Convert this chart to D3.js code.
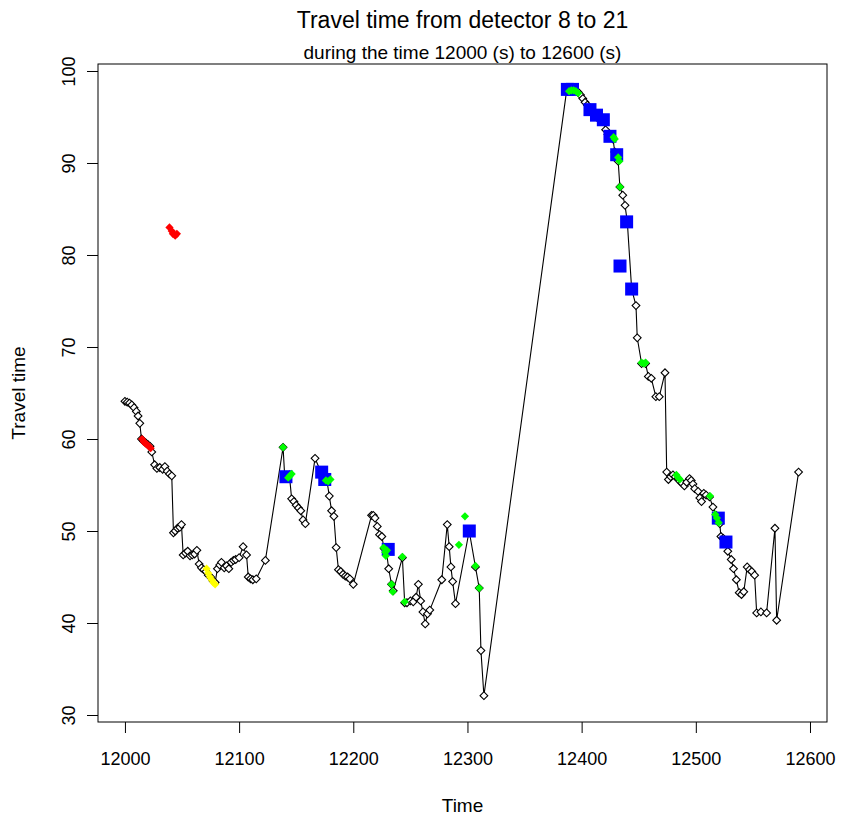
<!DOCTYPE html>
<html>
<head>
<meta charset="utf-8">
<script src="https://cdn.jsdelivr.net/npm/d3@7"></script>
<style>
  body { margin: 0; background: #fff; }
  text { font-family: "Liberation Sans", Arial, sans-serif; fill: #000; }
</style>
</head>
<body>
<div id="chart"></div>
<script>
// travel time series (time in s, travel time)
var travelTime = [
  [12000,64.1],[12002,64.0],[12004,63.9],[12006,63.7],[12008,63.4],[12010,63.0],[12011.5,62.5],[12013,61.7],
  [12014.5,60.0],[12016,59.8],[12018,59.6],[12020,59.4],[12022,59.2],[12023.5,58.6],[12026,57.2],[12028,56.8],
  [12030.5,56.9],[12033,56.7],[12035,57.0],[12037,56.5],[12039,56.2],[12041,56.0],[12042.5,49.8],[12044,50.0],
  [12046,50.3],[12048,50.4],[12049.5,50.7],[12051,47.4],[12053,47.6],[12055,47.8],[12057,47.3],[12059,47.4],
  [12061,47.5],[12063,47.9],[12065,46.4],[12067,46.0],[12069,45.8],[12071,45.6],[12073,45.2],[12075,45.0],
  [12077,44.6],[12079,44.4],[12081,45.9],[12083,46.3],[12084.5,46.6],[12087,46.0],[12089,46.2],[12091,45.9],
  [12093,46.6],[12095,46.8],[12097,46.9],[12100,47.1],[12103.5,48.3],[12106.5,47.4],[12108,45.0],[12110,44.8],
  [12112,44.7],[12115,44.8],[12123,46.8],[12138.5,59.1],[12140,55.8],[12142,55.9],[12144,56.1],[12146,53.5],
  [12148,53.2],[12150,52.8],[12152,52.5],[12154,52.2],[12156,51.2],[12158,50.8],[12166.5,57.9],[12172,56.3],
  [12175,55.6],[12177,55.4],[12179,53.8],[12181,52.2],[12183,51.6],[12185,48.2],[12187,45.8],[12189,45.6],
  [12191,45.3],[12193,45.1],[12195,45.0],[12197,44.8],[12200,44.2],[12216,51.7],[12217.5,51.7],[12219,51.4],
  [12221,50.5],[12223,49.6],[12225,49.4],[12227,48.1],[12229,47.8],[12231,45.9],[12233.5,44.2],[12235,43.5],
  [12243,47.1],[12245,42.2],[12247,42.2],[12250,42.4],[12252.5,42.3],[12255,42.8],[12257,44.2],[12259,42.4],
  [12261,41.2],[12263,39.9],[12265,41.0],[12267,41.4],[12277.5,44.7],[12282.3,50.7],[12284,48.3],[12285.5,46.1],
  [12287,44.5],[12289.5,42.1],[12301.5,50.0],[12307,46.1],[12310.3,43.8],[12311.8,37.0],[12314.4,32.1],
  [12387,98.0],[12389,98.0],[12391,98.0],[12393,97.9],[12395,97.9],[12397,97.7],[12399,97.4],[12401,97.0],
  [12403,96.6],[12405,96.3],[12407,95.8],[12410,95.3],[12413,95.0],[12416,94.8],[12419,94.5],[12421,93.6],
  [12423,93.1],[12425,92.9],[12427.5,92.6],[12429,91.2],[12430.5,90.8],[12432,90.2],[12433.5,87.4],[12436,86.5],
  [12438,85.4],[12440,83.6],[12443.8,76.3],[12447.6,74.5],[12448.7,71.0],[12452.5,68.2],[12456,68.2],
  [12458.4,66.8],[12461,66.6],[12465,64.6],[12468,64.6],[12473,67.2],[12474.5,56.4],[12476,55.6],[12478,55.9],
  [12480,56.1],[12482,55.9],[12484.5,55.7],[12486,55.4],[12488,55.2],[12490,54.9],[12492,55.3],[12494.5,55.7],
  [12496,55.5],[12497.5,55.1],[12499,54.6],[12502,54.3],[12503.5,53.6],[12505,53.2],[12507,54.1],[12509,53.9],
  [12512,53.7],[12515,52.6],[12518,51.7],[12519.5,51.3],[12521,50.8],[12522,49.4],[12524,49.2],[12526.5,48.6],
  [12528,47.8],[12531,46.9],[12533,45.9],[12535.5,44.7],[12538,43.3],[12540,43.1],[12542,43.4],[12545,46.1],
  [12547,45.8],[12549,45.6],[12551.5,45.2],[12553.3,41.1],[12557,41.2],[12562,41.1],[12569.3,50.3],[12570.8,40.3],
  [12590,56.4]
];

var redPts = [
  [12015,60.0],[12016.5,59.7],[12018,59.5],[12019.5,59.4],[12021,59.2],[12022.5,59.0],
  [12039,83.0],[12041,82.6],[12042,82.3],[12044,82.1],[12045.5,82.3]
];

var yellowPts = [
  [12071.5,45.9],[12073,45.4],[12074.5,45.0],[12076,44.7],[12077.5,44.4],[12079,44.2]
];

var greenPts = [
  [12138.5,59.1],[12143,55.8],[12144.5,56.0],[12146,56.2],
  [12176,55.5],[12178,55.4],[12180,55.6],
  [12226.5,48.2],[12228,47.7],[12229.5,47.9],[12228.5,47.3],[12233.5,44.2],[12234.5,43.4],
  [12243,47.2],[12245,42.3],[12292.5,48.5],[12297.8,51.6],[12307,46.2],[12310.3,43.8],
  [12389,97.8],[12391,97.9],[12393,97.9],[12395,97.8],[12397,97.6],[12428,92.8],[12429,92.6],
  [12432,90.6],[12433,90.2],[12433.6,87.4],[12452.5,68.3],[12454.5,68.2],[12456,68.3],
  [12483,56.1],[12484.6,55.8],[12486,55.6],[12512.5,53.8],[12517,51.8],[12518.5,51.4],[12520,50.9]
];

var bluePts = [
  [12141,55.9],[12172.3,56.4],[12175,55.6],[12230.6,48.0],[12301.6,50.0],[12387.5,98.0],[12392,98.0],
  [12407.3,95.8],[12413,95.2],[12419,94.7],[12424.8,92.9],[12430.7,90.9],[12439.4,83.6],[12433.6,78.8],
  [12443.8,76.3],[12519.7,51.4],[12526.4,48.8]
];

var xTicks = [12000, 12100, 12200, 12300, 12400, 12500, 12600];
var yTicks = [30, 40, 50, 60, 70, 80, 90, 100];

// dimensions of the plot box
var W = 842, H = 819;
var box = { left: 98, right: 827, top: 64, bottom: 722 };

var svg = d3.select("#chart")
    .append("svg")
    .attr("width", W)
    .attr("height", H);

// R-style 4% padded domains
var x = d3.scaleLinear().domain([11976.4, 12614.9]).range([box.left, box.right]);
var y = d3.scaleLinear().domain([29.24, 100.76]).range([box.bottom, box.top]);

// X axis
var xAxis = svg.append("g")
    .attr("transform", "translate(0," + box.bottom + ")")
    .call(d3.axisBottom(x).tickValues(xTicks).tickSize(11).tickPadding(19).tickFormat(d3.format("d")));
xAxis.select(".domain").remove();
xAxis.selectAll("line").attr("stroke", "#000");
xAxis.selectAll("text")
    .attr("font-size", "18px")
    .attr("font-family", "Liberation Sans, Arial, sans-serif");

// Y axis
var yAxis = svg.append("g")
    .attr("transform", "translate(" + box.left + ",0)")
    .call(d3.axisLeft(y).tickValues(yTicks).tickSize(11).tickFormat(d3.format("d")));
yAxis.select(".domain").remove();
yAxis.selectAll("line").attr("stroke", "#000");
yAxis.selectAll("text")
    .attr("font-size", "18px")
    .attr("font-family", "Liberation Sans, Arial, sans-serif")
    .attr("x", null).attr("dy", null)
    .attr("text-anchor", "middle")
    .attr("transform", "translate(-23,0) rotate(-90)");

// plot box
svg.append("rect")
    .attr("x", box.left).attr("y", box.top)
    .attr("width", box.right - box.left).attr("height", box.bottom - box.top)
    .attr("fill", "none").attr("stroke", "#000").attr("stroke-width", 1);

// line
var line = d3.line().x(function (d) { return x(d[0]); }).y(function (d) { return y(d[1]); });
svg.append("path")
    .datum(travelTime)
    .attr("d", line)
    .attr("fill", "none")
    .attr("stroke", "#000")
    .attr("stroke-width", 1.1);

// open diamonds on every point
var diamond = d3.symbol().type(d3.symbolSquare).size(30);

svg.append("g").selectAll("path")
    .data(travelTime)
    .enter().append("path")
    .attr("d", diamond)
    .attr("transform", function (d) { return "translate(" + x(d[0]) + "," + y(d[1]) + ") rotate(45)"; })
    .attr("fill", "#fff")
    .attr("stroke", "#000")
    .attr("stroke-width", 1.1);

// blue squares
svg.append("g").selectAll("rect")
    .data(bluePts)
    .enter().append("rect")
    .attr("x", function (d) { return x(d[0]) - 6.5; })
    .attr("y", function (d) { return y(d[1]) - 6.5; })
    .attr("width", 13)
    .attr("height", 13)
    .attr("fill", "#0000ff");

function filledDiamonds(data, col) {
    svg.append("g").selectAll("path")
        .data(data)
        .enter().append("path")
        .attr("d", d3.symbol().type(d3.symbolSquare).size(34))
        .attr("transform", function (d) { return "translate(" + x(d[0]) + "," + y(d[1]) + ") rotate(45)"; })
        .attr("fill", col);
}
filledDiamonds(redPts, "#ff0000");
filledDiamonds(yellowPts, "#ffff00");
filledDiamonds(greenPts, "#00ff00");

// titles
var cx = (box.left + box.right) / 2;
svg.append("text")
    .text("Travel time from detector 8 to 21")
    .attr("x", cx).attr("y", 28)
    .attr("text-anchor", "middle")
    .style("font-size", "23px");

svg.append("text")
    .text("during the time 12000 (s) to 12600 (s)")
    .attr("x", cx).attr("y", 59)
    .attr("text-anchor", "middle")
    .style("font-size", "19px");

svg.append("text")
    .text("Time")
    .attr("x", cx).attr("y", 812)
    .attr("text-anchor", "middle")
    .style("font-size", "19px");

svg.append("text")
    .text("Travel time")
    .attr("transform", "translate(25," + (box.top + box.bottom) / 2 + ") rotate(-90)")
    .attr("text-anchor", "middle")
    .style("font-size", "19px");
</script>
</body>
</html>
